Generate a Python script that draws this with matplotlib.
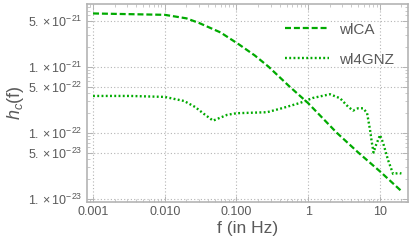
import numpy as np
import matplotlib
matplotlib.use("Agg")
import matplotlib.pyplot as plt
from matplotlib.ticker import FixedLocator, NullFormatter, LogLocator

plt.rcParams['font.family'] = ['Liberation Sans', 'DejaVu Sans']
plt.rcParams['mathtext.fontset'] = 'custom'
plt.rcParams['mathtext.rm'] = 'Liberation Sans'
plt.rcParams['mathtext.it'] = 'Liberation Sans:italic'

# wlCA
f_ca = [0.001, 0.01, 0.02, 0.03, 0.06, 0.11, 0.18, 0.28, 0.55, 1.0, 2.5, 5.0, 10.0, 20.0]
h_ca = [6.4e-21, 6.1e-21, 5.4e-21, 4.6e-21, 3.3e-21, 2.15e-21, 1.48e-21, 1.0e-21, 5.0e-22,
        2.8e-22, 1.0e-22, 5.0e-23, 2.6e-23, 1.3e-23]

# wl4GNZ
f_gnz = [0.001, 0.0033, 0.01, 0.0186, 0.0265, 0.0353, 0.0472, 0.074, 0.1, 0.267,
         0.447, 0.77, 1.17, 2.02, 2.79, 3.6, 4.23, 4.96, 5.83, 6.63, 7.3, 7.7,
         8.17, 8.85, 10.07, 11.1, 13.0, 15.3, 18.5, 20.0]
h_gnz = [3.6e-22, 3.6e-22, 3.48e-22, 3.02e-22, 2.45e-22, 1.92e-22, 1.52e-22, 1.86e-22,
         1.97e-22, 2.04e-22, 2.37e-22, 2.82e-22, 3.36e-22, 3.82e-22, 3.32e-22, 2.48e-22,
         2.16e-22, 2.34e-22, 2.34e-22, 1.99e-22, 1.10e-22, 7.3e-23, 5.0e-23, 6.5e-23,
         9.2e-23, 7.0e-23, 3.86e-23, 2.37e-23, 2.45e-23, 2.4e-23]

xticks = [0.001, 0.01, 0.1, 1, 10]
xticklabels = ["0.001", "0.010", "0.100", "1", "10"]
yticks = [1e-23, 5e-23, 1e-22, 5e-22, 1e-21, 5e-21]
yticklabels = [r"$1.\times10^{-23}$", r"$5.\times10^{-23}$", r"$1.\times10^{-22}$",
               r"$5.\times10^{-22}$", r"$1.\times10^{-21}$", r"$5.\times10^{-21}$"]

green = '#00aa00'
gray = '#b4b4b4'
textc = '#5a5a5a'

fig = plt.figure(figsize=(4.13, 2.49), dpi=100)
ax = fig.add_axes([87/413, 1-202/249, (408-87)/413, (202-4)/249])

ax.plot(f_ca, h_ca, color=green, lw=1.6, ls=(0, (2.7, 1.3)), label='wlCA')
ax.plot(f_gnz, h_gnz, color=green, lw=1.7, ls=(0, (0.8, 1.0)), label='wl4GNZ')

ax.set_xscale('log')
ax.set_yscale('log')
ax.set_xlim(8.24e-4, 24.7)
ax.set_ylim(8.9e-24, 8.9e-21)

ax.xaxis.set_major_locator(FixedLocator(xticks))
ax.set_xticklabels(xticklabels)
ax.xaxis.set_minor_locator(LogLocator(base=10, subs=np.arange(2, 10), numticks=20))
ax.xaxis.set_minor_formatter(NullFormatter())
ax.yaxis.set_major_locator(FixedLocator(yticks))
ax.set_yticklabels(yticklabels)
ax.yaxis.set_minor_locator(LogLocator(base=10, subs=np.arange(2, 10), numticks=20))
ax.yaxis.set_minor_formatter(NullFormatter())

ax.grid(True, which='major', color=gray, ls=(0, (1, 2)), lw=0.8)
for s in ax.spines.values():
    s.set_color(gray)
    s.set_linewidth(1.2)
ax.tick_params(which='major', direction='in', length=4, width=0.7, color=gray,
               labelsize=9, labelcolor=textc, pad=3)
ax.tick_params(which='minor', direction='in', length=2, width=0.5, color=gray)
ax.tick_params(axis='x', which='both', top=True)
ax.tick_params(axis='y', which='both', right=True)
ax.tick_params(axis='x', which='both', labeltop=False)

ax.set_xlabel('f (in Hz)', fontsize=12.5, color=textc, labelpad=2)
ax.set_ylabel(r'$h_c$(f)', fontsize=13, color=textc, labelpad=2)

leg = ax.legend(loc='upper right', frameon=False, fontsize=11, handlelength=2.9,
                labelspacing=1.05, handletextpad=0.65, bbox_to_anchor=(1.0, 0.975),
                labelcolor=textc)

fig.savefig('out.png', dpi=100)
